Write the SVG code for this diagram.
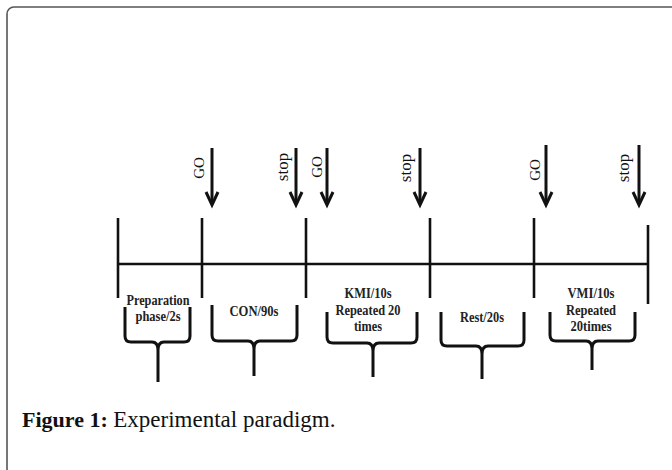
<svg xmlns="http://www.w3.org/2000/svg" width="672" height="470" viewBox="0 0 672 470">
<style>
.ln{stroke:#111;stroke-width:2.6;fill:none;stroke-linecap:butt}
.ar{stroke:#111;stroke-width:3;fill:none}
.br{stroke:#111;stroke-width:3;fill:none;stroke-linejoin:round}
.lbl{font-family:"Liberation Serif","Times New Roman",serif;font-weight:bold;font-size:15px;fill:#222;text-anchor:middle}
.sig{font-family:"Liberation Serif","Times New Roman",serif;font-size:15px;fill:#111;text-anchor:middle}
.cap{font-family:"Liberation Serif","Times New Roman",serif;font-size:22px;fill:#111}
</style>
<rect x="0" y="0" width="672" height="470" fill="#fff"/>
<rect x="7" y="7" width="700" height="500" rx="7" fill="#fff" stroke="#555" stroke-width="1.6"/>

<g id="timeline">
<line class="ln" x1="118" y1="264" x2="648" y2="264"/>
<line class="ln" x1="118" y1="218" x2="118" y2="298"/>
<line class="ln" x1="202" y1="218" x2="202" y2="298"/>
<line class="ln" x1="306" y1="218" x2="306" y2="298"/>
<line class="ln" x1="430" y1="218" x2="430" y2="298"/>
<line class="ln" x1="534" y1="218" x2="534" y2="298"/>
<line class="ln" x1="648" y1="225" x2="648" y2="304"/>
</g>

<g id="connectors">
<line class="ar" x1="212" y1="148" x2="212" y2="204"/>
<polyline class="ar" points="206,192 212,205 218,192"/>
<line class="ar" x1="296" y1="148" x2="296" y2="204"/>
<polyline class="ar" points="290,192 296,205 302,192"/>
<line class="ar" x1="327" y1="148" x2="327" y2="204"/>
<polyline class="ar" points="321,192 327,205 333,192"/>
<line class="ar" x1="420" y1="148" x2="420" y2="204"/>
<polyline class="ar" points="414,192 420,205 426,192"/>
<line class="ar" x1="546" y1="145" x2="546" y2="204"/>
<polyline class="ar" points="540,192 546,205 552,192"/>
<line class="ar" x1="639" y1="145" x2="639" y2="204"/>
<polyline class="ar" points="633,192 639,205 645,192"/>
</g>

<g id="signals">
<text class="sig" transform="translate(204,168) rotate(-90)">GO</text>
<text class="sig" style="font-size:17px" transform="translate(288,167) rotate(-90)">stop</text>
<text class="sig" transform="translate(322,167) rotate(-90)">GO</text>
<text class="sig" style="font-size:17px" transform="translate(411,168) rotate(-90)">stop</text>
<text class="sig" transform="translate(540,170) rotate(-90)">GO</text>
<text class="sig" style="font-size:17px" transform="translate(629,168) rotate(-90)">stop</text>
</g>

<g id="prep">
<path class="br" d="M125,307 V336 Q125,342 131,342 H152 Q158,342 158,350 V382 M190,307 V336 Q190,342 184,342 H164 Q158,342 158,350"/>
<text class="lbl" x="158" y="305" textLength="63" lengthAdjust="spacingAndGlyphs">Preparation</text>
<text class="lbl" x="158" y="321" textLength="45" lengthAdjust="spacingAndGlyphs">phase/2s</text>
</g>

<g id="con">
<path class="br" d="M212,305 V335 Q212,341 218,341 H248 Q254,341 254,349 V376 M297,305 V335 Q297,341 291,341 H260 Q254,341 254,349"/>
<text class="lbl" x="254" y="316" textLength="49" lengthAdjust="spacingAndGlyphs">CON/90s</text>
</g>

<g id="kmi">
<path class="br" d="M327,312 V337 Q327,343 333,343 H367 Q373,343 373,351 V377 M417,312 V337 Q417,343 411,343 H379 Q373,343 373,351"/>
<text class="lbl" x="368" y="298" textLength="47" lengthAdjust="spacingAndGlyphs">KMI/10s</text>
<text class="lbl" x="368" y="315" textLength="65" lengthAdjust="spacingAndGlyphs">Repeated 20</text>
<text class="lbl" x="368" y="331" textLength="28" lengthAdjust="spacingAndGlyphs">times</text>
</g>

<g id="rest">
<path class="br" d="M441,312 V340 Q441,346 447,346 H476 Q482,346 482,354 V379 M524,312 V340 Q524,346 518,346 H488 Q482,346 482,354"/>
<text class="lbl" x="482" y="322" textLength="44" lengthAdjust="spacingAndGlyphs">Rest/20s</text>
</g>

<g id="vmi">
<path class="br" d="M550,312 V335 Q550,341 556,341 H586 Q592,341 592,349 V370 M635,312 V335 Q635,341 629,341 H598 Q592,341 592,349"/>
<text class="lbl" x="591" y="298" textLength="47" lengthAdjust="spacingAndGlyphs">VMI/10s</text>
<text class="lbl" x="591" y="315" textLength="50" lengthAdjust="spacingAndGlyphs">Repeated</text>
<text class="lbl" x="591" y="331" textLength="41" lengthAdjust="spacingAndGlyphs">20times</text>
</g>

<text class="cap" x="22" y="427"><tspan font-weight="bold">Figure 1:</tspan> <tspan font-size="23">Experimental paradigm.</tspan></text>
</svg>
